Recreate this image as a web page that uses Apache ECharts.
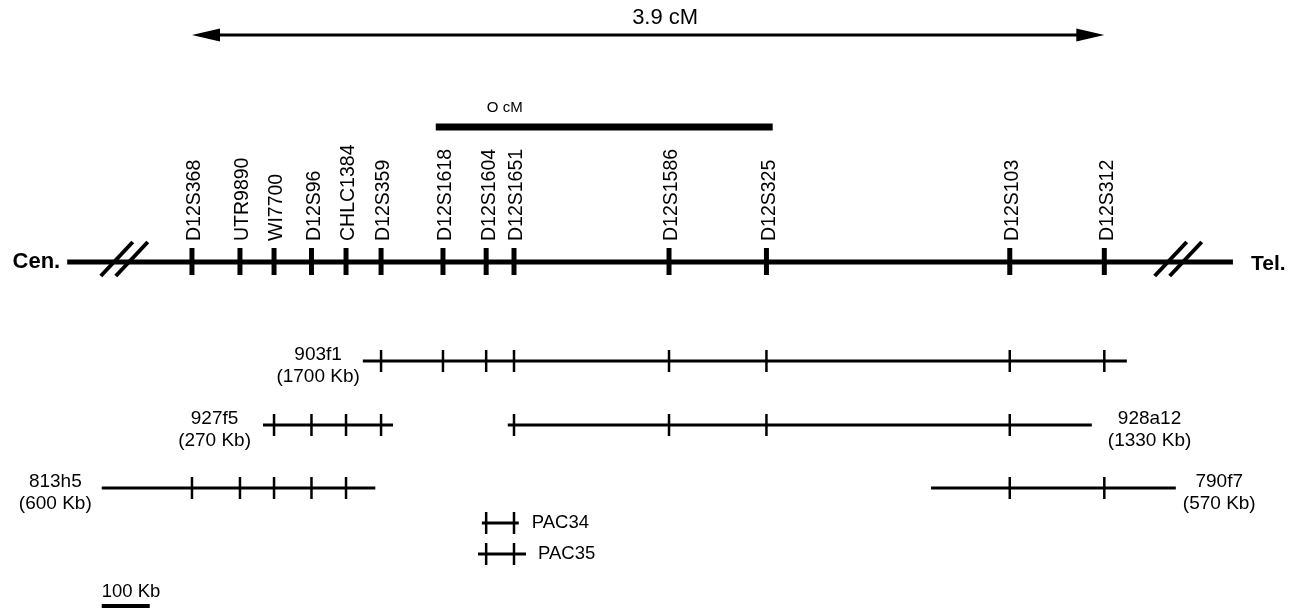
<!DOCTYPE html>
<html>
<head>
<meta charset="utf-8">
<title>Physical map, 12q</title>
<script src="https://cdn.jsdelivr.net/npm/echarts/dist/echarts.min.js"></script>
<style>
  html, body { margin: 0; padding: 0; background: #fff; }
  #chart { width: 1303px; height: 610px; }
</style>
</head>
<body>
<div id="chart"></div>
<script>
// markers on the chromosome, position in Kb counted from D12S368
const markerNames = ['D12S368', 'UTR9890', 'WI7700', 'D12S96', 'CHLC1384', 'D12S359', 'D12S1618',
  'D12S1604', 'D12S1651', 'D12S1586', 'D12S325', 'D12S103', 'D12S312']
const markerKb = [0, 100, 171, 249, 321, 394, 523, 613, 671, 994, 1197, 1704, 1901]

// clones (YACs and PACs): extent in Kb and the markers they contain
const cloneNames = ['903f1', '927f5', '928a12', '813h5', '790f7', 'PAC34', 'PAC35']
const cloneSizes = ['1700 Kb', '270 Kb', '1330 Kb', '600 Kb', '570 Kb', '', '']
const cloneStart = [356, 148, 658, -188, 1540, 604, 596]
const cloneEnd = [1948, 419, 1875, 382, 2050, 681, 696]
const cloneRow = [0, 1, 1, 2, 2, 3, 4]
const cloneMarkers = [[5, 6, 7, 8, 9, 10, 11, 12], [2, 3, 4, 5], [8, 9, 10, 11], [0, 1, 2, 3, 4], [11, 12], [7, 8], [7, 8]]

// genetic distances
const geneticLabels = ['3.9 cM', 'O cM']
const zeroCmKb = [508, 1210]

// chromosome segment drawn, breaks, scale bar
const chromKb = [-260, 2169]
const breakKb = [-140, 2056]
const scaleBarKb = 100
const scaleBarLabel = '100 Kb'

// ---- layout (y axis runs top-down in pixels) ----
const X_MIN = -400
const X_MAX = 2315
const Y_ARROW = 35
const Y_ZERO_CM = 127
const Y_CHROM = 262
const ROW_Y = [361, 425, 488, 523, 554]
const Y_SCALE = 606
const LABEL_SIDE = ['left', 'left', 'right', 'left', 'right', 'right', 'right']
const LABEL_GAP = [3, 12, 16, 10, 7, 13, 12]
const INK = '#000'
const FAMILY = '"Liberation Sans", Arial, Helvetica, sans-serif'

const measureCtx = document.createElement('canvas').getContext('2d')
function textWidth(text, font) {
  measureCtx.font = font
  return measureCtx.measureText(text).width
}

function label(x, y, text, size, align, extra) {
  const font = (extra && extra.bold ? 'bold ' : '') + size + 'px ' + FAMILY
  const el = {
    type: 'text',
    x: x,
    y: y,
    style: { text: text, font: font, fill: INK, align: align, verticalAlign: 'middle' }
  }
  if (extra && extra.rotation) el.rotation = extra.rotation
  return el
}

const chart = echarts.init(document.getElementById('chart'), null, { renderer: 'canvas' })

chart.setOption({
  backgroundColor: '#fff',
  animation: false,
  grid: { left: 0, right: 0, top: 0, bottom: 0 },
  xAxis: { type: 'value', min: X_MIN, max: X_MAX, show: false },
  yAxis: { type: 'value', min: 0, max: 610, inverse: true, show: false },
  series: [
    // 3.9 cM double arrow between the outer markers
    {
      type: 'custom',
      silent: true,
      data: [[markerKb[0], markerKb[markerKb.length - 1], Y_ARROW]],
      renderItem(params, api) {
        const a = api.coord([api.value(0), api.value(2)])
        const b = api.coord([api.value(1), api.value(2)])
        const head = 28
        const half = 6.5
        return {
          type: 'group',
          children: [
            { type: 'line', shape: { x1: a[0] + head - 4, y1: a[1], x2: b[0] - head + 4, y2: b[1] },
              style: { stroke: INK, lineWidth: 3 } },
            { type: 'polygon', shape: { points: [[a[0], a[1]], [a[0] + head, a[1] - half], [a[0] + head, a[1] + half]] },
              style: { fill: INK } },
            { type: 'polygon', shape: { points: [[b[0], b[1]], [b[0] - head, b[1] - half], [b[0] - head, b[1] + half]] },
              style: { fill: INK } },
            label((a[0] + b[0]) / 2 + 17, a[1] - 17, geneticLabels[0], 22, 'center')
          ]
        }
      }
    },
    // 0 cM bar
    {
      type: 'custom',
      silent: true,
      data: [[zeroCmKb[0], zeroCmKb[1], Y_ZERO_CM]],
      renderItem(params, api) {
        const a = api.coord([api.value(0), api.value(2)])
        const b = api.coord([api.value(1), api.value(2)])
        return {
          type: 'group',
          children: [
            { type: 'line', shape: { x1: a[0], y1: a[1], x2: b[0], y2: b[1] }, style: { stroke: INK, lineWidth: 7 } },
            label(a[0] + 69, a[1] - 19, geneticLabels[1], 15, 'center')
          ]
        }
      }
    },
    // chromosome line with Cen./Tel. labels
    {
      type: 'custom',
      silent: true,
      data: [[chromKb[0], chromKb[1], Y_CHROM]],
      renderItem(params, api) {
        const a = api.coord([api.value(0), api.value(2)])
        const b = api.coord([api.value(1), api.value(2)])
        return {
          type: 'group',
          children: [
            { type: 'line', shape: { x1: a[0], y1: a[1], x2: b[0], y2: b[1] }, style: { stroke: INK, lineWidth: 5 } },
            label(a[0] - 7, a[1], 'Cen.', 22, 'right', { bold: true }),
            label(b[0] + 18, a[1] + 2, 'Tel.', 21, 'left', { bold: true })
          ]
        }
      }
    },
    // break marks //
    {
      type: 'custom',
      silent: true,
      data: breakKb.map(kb => [kb, Y_CHROM]),
      renderItem(params, api) {
        const p = api.coord([api.value(0), api.value(1)])
        const slash = dx => ({
          type: 'line',
          shape: { x1: p[0] + dx, y1: p[1] + 14, x2: p[0] + dx + 32, y2: p[1] - 20 },
          style: { stroke: INK, lineWidth: 4 }
        })
        return { type: 'group', children: [slash(-24), slash(-9)] }
      }
    },
    // markers: tick on chromosome and vertical name
    {
      type: 'custom',
      silent: true,
      data: markerKb.map(kb => [kb, Y_CHROM]),
      renderItem(params, api) {
        const p = api.coord([api.value(0), api.value(1)])
        return {
          type: 'group',
          children: [
            { type: 'rect', shape: { x: p[0] - 2.5, y: p[1] - 14, width: 5, height: 27 }, style: { fill: INK } },
            label(p[0] + 3, p[1] - 21, markerNames[params.dataIndex], 19.5, 'left', { rotation: Math.PI / 2 })
          ]
        }
      }
    },
    // clones
    {
      type: 'custom',
      silent: true,
      data: cloneNames.map((n, i) => [cloneStart[i], cloneEnd[i], ROW_Y[cloneRow[i]]]),
      renderItem(params, api) {
        const i = params.dataIndex
        const y = api.value(2)
        const a = api.coord([api.value(0), y])
        const b = api.coord([api.value(1), y])
        const children = [
          { type: 'line', shape: { x1: a[0], y1: a[1], x2: b[0], y2: b[1] }, style: { stroke: INK, lineWidth: 3 } }
        ]
        cloneMarkers[i].forEach(m => {
          const t = api.coord([markerKb[m], y])
          children.push({ type: 'rect', shape: { x: t[0] - 1.25, y: t[1] - 11, width: 2.5, height: 22 }, style: { fill: INK } })
        })
        const size = 19
        const font = size + 'px ' + FAMILY
        const gap = LABEL_GAP[i]
        if (cloneSizes[i]) {
          const sizeText = '(' + cloneSizes[i] + ')'
          const w = Math.max(textWidth(cloneNames[i], font), textWidth(sizeText, font))
          const cx = LABEL_SIDE[i] === 'left' ? a[0] - gap - w / 2 : b[0] + gap + w / 2
          children.push(label(cx, a[1] - 6, cloneNames[i], size, 'center'))
          children.push(label(cx, a[1] + 16, sizeText, size, 'center'))
        } else {
          children.push(label(b[0] + gap, a[1], cloneNames[i], 18.5, 'left'))
        }
        return { type: 'group', children: children }
      }
    },
    // scale bar
    {
      type: 'custom',
      silent: true,
      data: [[cloneStart[3], cloneStart[3] + scaleBarKb, Y_SCALE]],
      renderItem(params, api) {
        const a = api.coord([api.value(0), api.value(2)])
        const b = api.coord([api.value(1), api.value(2)])
        return {
          type: 'group',
          children: [
            { type: 'line', shape: { x1: a[0], y1: a[1], x2: b[0], y2: b[1] }, style: { stroke: INK, lineWidth: 4 } },
            label(a[0], a[1] - 14, scaleBarLabel, 18.5, 'left')
          ]
        }
      }
    }
  ]
})
</script>
</body>
</html>
